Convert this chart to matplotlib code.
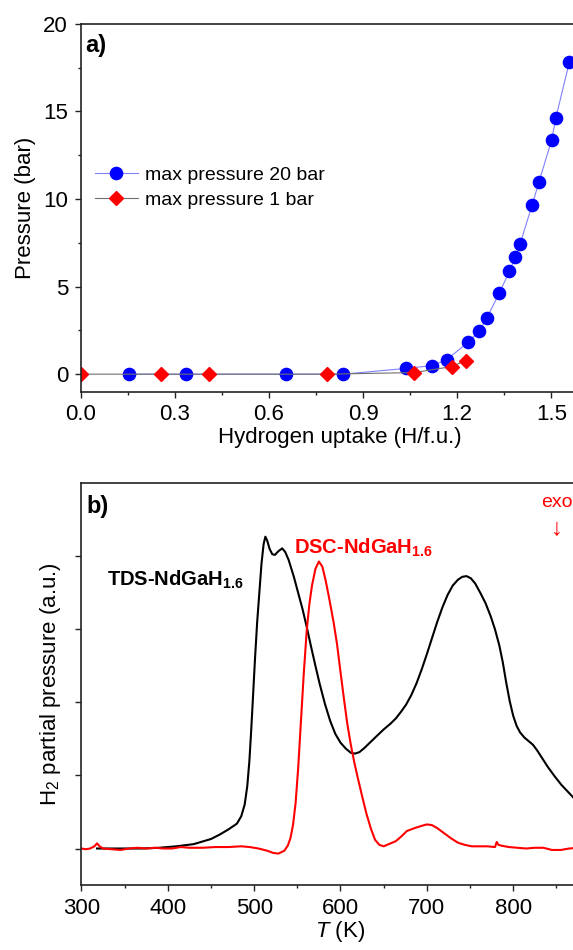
import matplotlib
matplotlib.use('Agg')
import matplotlib.pyplot as plt
from matplotlib.ticker import MultipleLocator

plt.rcParams['font.family'] = ['Liberation Sans', 'DejaVu Sans']
plt.rcParams['mathtext.fontset'] = 'custom'
plt.rcParams['mathtext.rm'] = 'Liberation Sans'
plt.rcParams['mathtext.it'] = 'Liberation Sans:italic'
plt.rcParams['mathtext.bf'] = 'Liberation Sans:bold'

# panel a: pressure vs hydrogen uptake
blue_x = [0.154, 0.336, 0.654, 0.837, 1.037, 1.120, 1.166, 1.235, 1.269, 1.294,
          1.334, 1.366, 1.385, 1.400, 1.439, 1.460, 1.501, 1.514, 1.557]
blue_p = [0.0, 0.0, 0.0, 0.0, 0.33, 0.49, 0.82, 1.83, 2.44, 3.2,
          4.63, 5.87, 6.67, 7.43, 9.68, 10.95, 13.39, 14.63, 17.81]
red_x = [0.0, 0.256, 0.409, 0.786, 1.062, 1.182, 1.227]
red_p = [0.0, 0.0, 0.0, 0.0, 0.09, 0.43, 0.78]

# panel b: TDS (black) and DSC (red) traces
tds_T = [318, 330, 350, 370, 390, 410, 430, 450, 460, 470, 480, 485, 489, 492,
         494.5, 496.5, 498.5, 501, 503.5, 506, 508.5, 511, 513, 515, 518, 521,
         524, 528, 532.5, 536, 540, 546, 551, 556, 561, 566, 571, 576, 582, 588,
         594, 600, 606, 612, 617, 622, 628, 635, 642, 650, 658, 664, 670, 676,
         682, 688, 694, 700, 706, 712, 718, 724, 730, 736, 741, 746, 751, 756,
         762, 768, 774, 779, 784, 788, 792, 796, 800, 804, 808, 813, 818, 823,
         828, 834, 840, 848, 856, 864, 872, 880, 890, 900]
tds_v = [0.0, 0.0, 0.0, 0.0, 0.01, 0.03, 0.06, 0.13, 0.19, 0.26, 0.34, 0.44,
         0.6, 0.85, 1.2, 1.6, 2.04, 2.6, 3.1, 3.5, 3.9, 4.17, 4.27, 4.22, 4.1,
         4.03, 4.02, 4.07, 4.11, 4.06, 3.95, 3.72, 3.5, 3.28, 3.03, 2.76, 2.5,
         2.25, 1.98, 1.75, 1.57, 1.45, 1.37, 1.31, 1.30, 1.32, 1.38, 1.46, 1.54,
         1.63, 1.71, 1.78, 1.87, 1.97, 2.1, 2.26, 2.45, 2.66, 2.88, 3.1, 3.3,
         3.47, 3.6, 3.68, 3.72, 3.73, 3.7, 3.63, 3.5, 3.36, 3.18, 3.0, 2.78, 2.55,
         2.27, 2.02, 1.82, 1.68, 1.59, 1.52, 1.47, 1.42, 1.34, 1.23, 1.12, 0.99,
         0.87, 0.77, 0.67, 0.6, 0.52, 0.45]
dsc_T = [300, 305, 310, 315, 318, 321, 325, 335, 345, 355, 365, 375, 385, 395,
         405, 415, 425, 440, 455, 470, 485, 495, 505, 515, 522, 528, 535, 539,
         542, 545, 548, 551, 554, 557.5, 561, 564, 567, 571, 575, 579, 583, 587,
         592, 596, 600, 604, 608, 612, 616, 620, 625, 630, 635, 640, 645, 650,
         658, 664, 670, 677, 686, 694, 700, 706, 712, 720, 728, 736, 744, 752,
         760, 770, 779, 781, 783, 786, 795, 805, 815, 825, 835, 845, 855, 865,
         875, 885, 900]
dsc_v = [0.0, -0.01, 0.0, 0.03, 0.07, 0.03, 0.0, -0.01, -0.02, 0.0, 0.01, 0.0,
         0.01, 0.0, 0.0, 0.02, 0.01, 0.01, 0.02, 0.02, 0.03, 0.02, 0.0, -0.03,
         -0.06, -0.07, -0.03, 0.04, 0.14, 0.32, 0.62, 1.1, 1.7, 2.4, 3.0, 3.35,
         3.6, 3.83, 3.93, 3.86, 3.66, 3.42, 3.1, 2.8, 2.42, 2.05, 1.7, 1.42,
         1.18, 0.97, 0.72, 0.48, 0.28, 0.12, 0.05, 0.03, 0.07, 0.1, 0.16, 0.24,
         0.28, 0.31, 0.33, 0.32, 0.28, 0.21, 0.14, 0.08, 0.05, 0.03, 0.03, 0.03,
         0.02, 0.09, 0.05, 0.04, 0.02, 0.01, 0.0, 0.01, 0.01, -0.02, -0.02, 0.0,
         0.01, 0.01, 0.0]

fig = plt.figure(figsize=(5.73, 9.5), dpi=100)
ax1 = fig.add_axes([0.1405, 0.5877, 0.904, 0.3871])
ax2 = fig.add_axes([0.1422, 0.0684, 0.904, 0.4228])

for ax in (ax1, ax2):
    for s in ax.spines.values():
        s.set_linewidth(1.2)
        s.set_color('#222222')
    ax.tick_params(which='both', direction='out', width=1.0, color='#222222',
                   labelsize=16, pad=4.5)
    ax.tick_params(which='major', length=4.5)
    ax.tick_params(which='minor', length=2.5)

# ---- panel a ----
ax1.plot(blue_x, blue_p, color='#8080ff', lw=0.8, marker='o', ms=8.8,
         mfc='#0000ff', mec='#0000ff', label='max pressure 20 bar')
ax1.plot(red_x, red_p, color='#707070', lw=0.8, marker='D', ms=6.8,
         mfc='#ff0000', mec='#ff0000', label='max pressure 1 bar')
ax1.set_xlim(0, 1.65)
ax1.set_ylim(-1, 20)
ax1.xaxis.set_major_locator(MultipleLocator(0.3))
ax1.xaxis.set_minor_locator(MultipleLocator(0.15))
ax1.yaxis.set_major_locator(MultipleLocator(5))
ax1.yaxis.set_minor_locator(MultipleLocator(2.5))
ax1.xaxis.set_major_formatter(lambda v, p: '%.1f' % v)
ax1.set_xlabel('Hydrogen uptake (H/f.u.)', fontsize=16, labelpad=1)
ax1.set_ylabel('Pressure (bar)', fontsize=16)
ax1.yaxis.set_label_coords(-0.086, 0.5)
ax1.text(0.009, 0.924, 'a)', transform=ax1.transAxes, fontsize=17,
         fontweight='bold', va='baseline')
ax1.legend(loc='upper left', bbox_to_anchor=(0.028, 0.614), frameon=False,
           fontsize=14, numpoints=1, handlelength=2.2, handletextpad=0.36,
           labelspacing=0.41, borderpad=0, borderaxespad=0)

# ---- panel b ----
ax2.plot(tds_T, tds_v, color='black', lw=1.5)
ax2.plot(dsc_T, dsc_v, color='#ff0000', lw=1.5)
ax2.set_xlim(300, 900)
ax2.set_ylim(-0.5, 5.0)
ax2.set_xticks([300, 400, 500, 600, 700, 800])
ax2.xaxis.set_minor_locator(MultipleLocator(50))
ax2.set_yticks([0, 1, 2, 3, 4])
ax2.set_yticklabels([])
ax2.set_xlabel(r'$\mathit{T}$ (K)', fontsize=16, labelpad=0)
ax2.set_ylabel(r'H$_2$ partial pressure (a.u.)', fontsize=16)
ax2.yaxis.set_label_coords(-0.036, 0.5)
ax2.text(0.009, 0.927, 'b)', transform=ax2.transAxes, fontsize=17,
         fontweight='bold', va='baseline')
ax2.text(330, 3.6, r'TDS-NdGaH$_{\mathbf{1.6}}$', fontsize=14.5, fontweight='bold',
         color='black', va='baseline')
ax2.text(546, 4.03, r'DSC-NdGaH$_{\mathbf{1.6}}$', fontsize=14.5, fontweight='bold',
         color='#ff0000', va='baseline')
ax2.text(851, 4.67, 'exo', fontsize=14, color='#ff0000', ha='center', va='baseline')
ax2.text(851, 4.37, '\u2193', fontsize=17, color='#ff0000', ha='center', va='center')

fig.savefig('out.png', dpi=100)
